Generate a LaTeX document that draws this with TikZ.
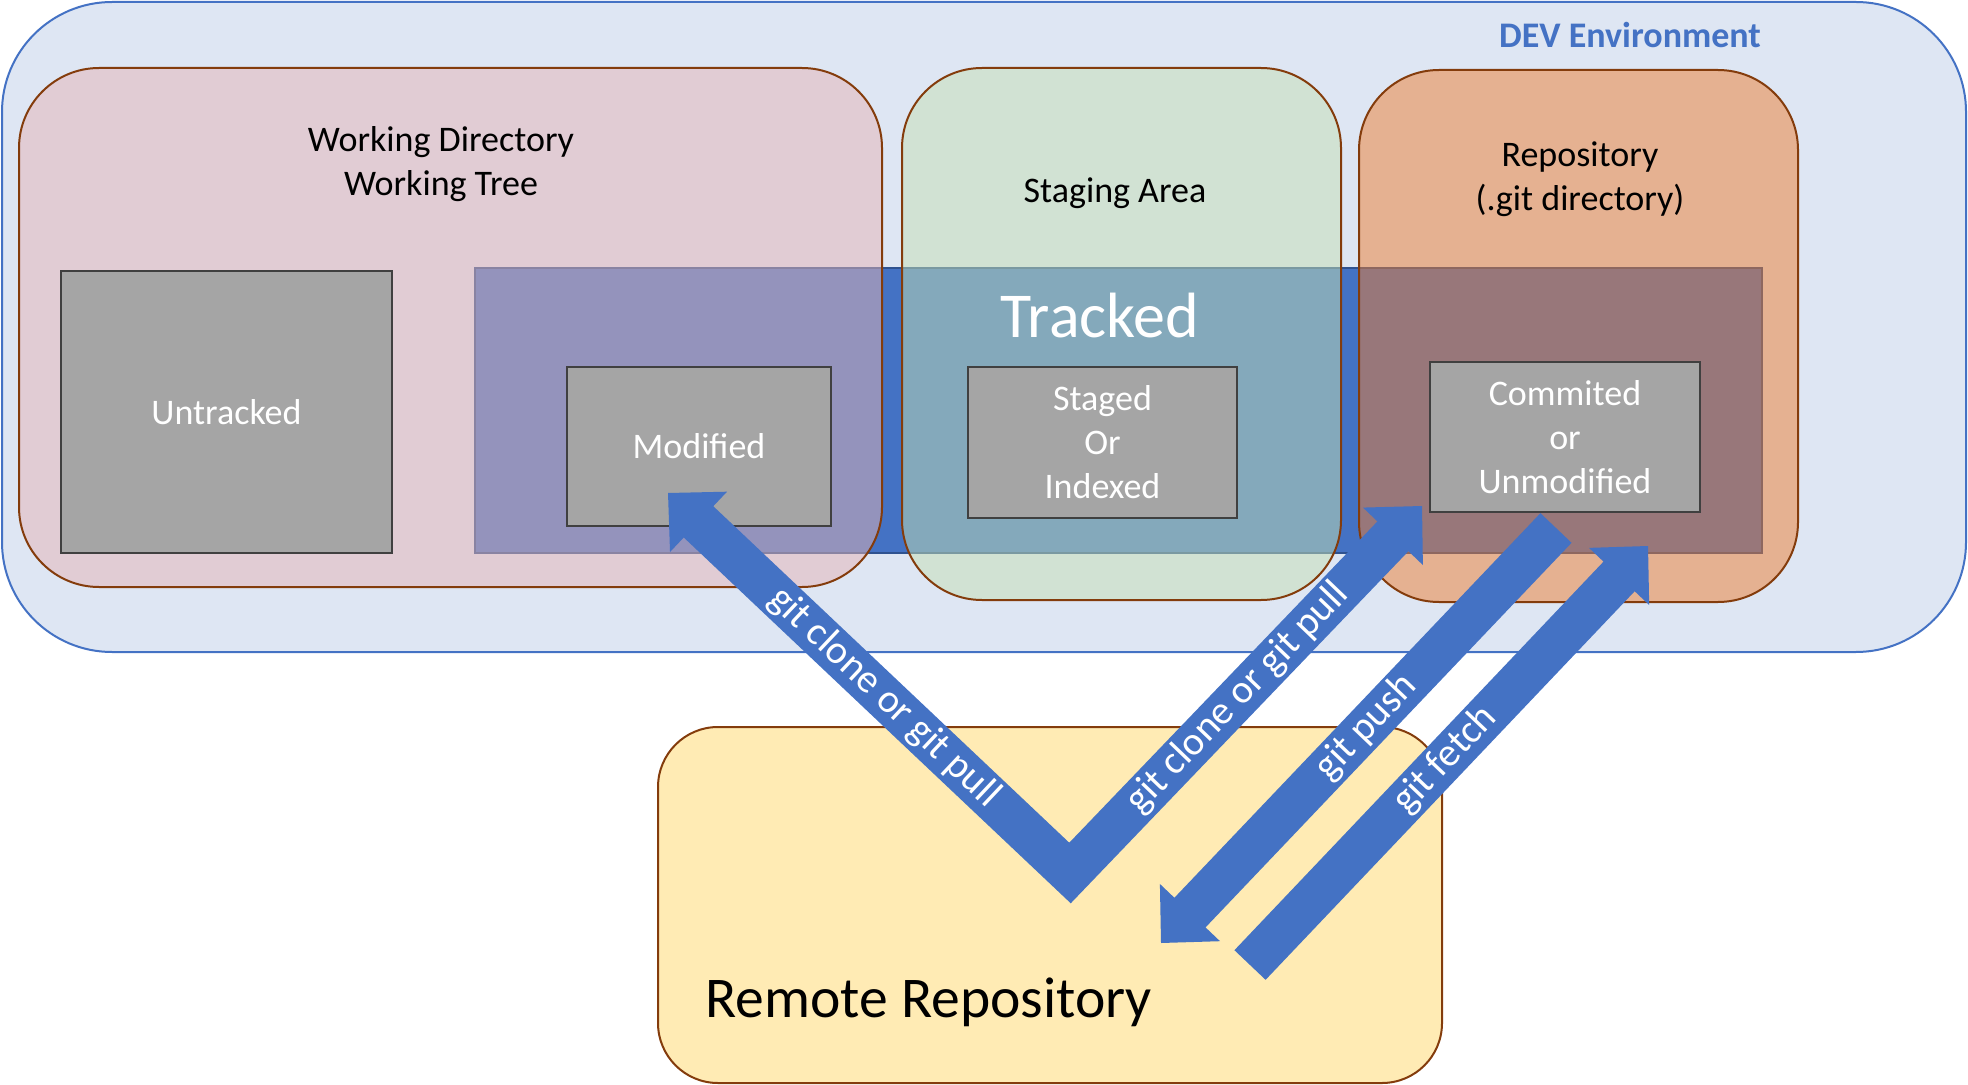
\documentclass[tikz,border=0pt]{standalone}
\usepackage{fontspec}
\setmainfont{Carlito}
\usetikzlibrary{calc}
\definecolor{devbg}{RGB}{222,230,243}
\definecolor{accblue}{RGB}{68,114,196}
\definecolor{darkblue}{RGB}{47,82,143}
\definecolor{brownline}{RGB}{132,60,12}
\definecolor{pinkfill}{RGB}{228,180,182}
\definecolor{greenfill}{RGB}{197,224,180}
\definecolor{orangefill}{RGB}{237,125,49}
\definecolor{grayfill}{RGB}{165,165,165}
\definecolor{grayline}{RGB}{64,64,64}
\definecolor{yellowfill}{RGB}{255,235,180}
\begin{document}
\begin{tikzpicture}[x=0.5pt,y=-0.5pt,
  area/.style={draw=brownline, line width=1pt, rounded corners=40pt, fill opacity=0.5},
  state/.style={draw=grayline, fill=grayfill, line width=1.2pt, text=white, align=center,
    font=\fontsize{18}{22}\selectfont},
  lbl/.style={font=\fontsize{18}{22}\selectfont, align=center, inner sep=0pt},
  arrlbl/.style={font=\fontsize{20}{24}\selectfont, text=white, inner sep=0pt, sloped},
  blockarrow/.style={fill=accblue, draw=none}
]
\useasboundingbox (0,0) rectangle (1968,1085);
% DEV environment
\draw[fill=devbg, draw=accblue, line width=1pt, rounded corners=55pt] (2,2) rectangle (1966,652);
% tracked region
\draw[draw=darkblue, fill=accblue, line width=1pt] (475,268) rectangle (1762,553);
% areas
\draw[area, fill=pinkfill] (19,68) rectangle (882,587);
\draw[area, fill=greenfill] (902,68) rectangle (1341,600);
\draw[area, fill=orangefill] (1359,70) rectangle (1798,602);
% state boxes
\node[state, minimum width=165.5pt, minimum height=141pt] (untracked) at (226.5,412) {Untracked};
\node[state, minimum width=132pt, minimum height=79.5pt] (modified) at (699,446.5) {Modified};
\node[state, minimum width=134.5pt, minimum height=75.5pt] (staged) at (1102.5,442.5) {Staged\\Or\\Indexed};
\node[state, minimum width=135pt, minimum height=75pt] (committed) at (1565,437) {Commited\\or\\Unmodified};
% labels
\node[lbl] (wd) at (441,164) {Working Directory\\Working Tree};
\node[lbl] (sa) at (1115,193) {Staging Area};
\node[lbl] (repo) at (1580,179) {Repository\\(.git directory)};
\node[lbl, font=\bfseries\fontsize{18}{22}\selectfont, text=accblue] (dev) at (1630,35) {DEV Environment};
\node[lbl, font=\fontsize{32}{38}\selectfont, text=white, anchor=base] (tracked) at (1100,337) {Tracked};
% remote
\draw[draw=brownline, fill=yellowfill, line width=1pt, rounded corners=30pt] (658,727) rectangle (1442,1083);
\node[lbl, font=\fontsize{28.8}{34}\selectfont, anchor=base west] (remote) at (705,1017) {Remote Repository};
% V arrows
\coordinate (C) at (1070,873);
\coordinate (P1) at (668,493);
\coordinate (P2) at (1422,506);
\coordinate (B1) at ($(P1)!21pt!(C)$);
\coordinate (B2) at ($(P2)!21pt!(C)$);
\coordinate (E1) at ($(P1)!19pt!(C)$);
\coordinate (E2) at ($(P2)!19pt!(C)$);
\draw[accblue, line width=21.5pt, line join=miter] (E1) -- (C) -- (E2);
\fill[blockarrow] (P1) -- ($(B1)!20.75pt!90:(P1)$) -- ($(B1)!20.75pt!-90:(P1)$) -- cycle;
\fill[blockarrow] (P2) -- ($(B2)!20.75pt!90:(P2)$) -- ($(B2)!20.75pt!-90:(P2)$) -- cycle;
\path (B1) -- (C) node[arrlbl, pos=0.5] {git clone or git pull};
\path (C) -- (B2) node[arrlbl, pos=0.52] {git clone or git pull};
% push arrow
\coordinate (T3) at (1556,528);
\coordinate (P3) at (1161,943);
\coordinate (B3) at ($(P3)!21pt!(T3)$);
\fill[blockarrow] ($(T3)!10.75pt!90:(P3)$) -- ($(B3)!10.75pt!90:(P3)$) -- ($(B3)!20.75pt!90:(P3)$) -- (P3) -- ($(B3)!20.75pt!-90:(P3)$) -- ($(B3)!10.75pt!-90:(P3)$) -- ($(T3)!10.75pt!-90:(P3)$) -- cycle;
\path (P3) -- (T3) node[arrlbl, pos=0.52] {git push};
% fetch arrow
\coordinate (T4) at (1250,965);
\coordinate (P4) at (1648,546);
\coordinate (B4) at ($(P4)!21pt!(T4)$);
\fill[blockarrow] ($(T4)!10.75pt!90:(P4)$) -- ($(B4)!10.75pt!90:(P4)$) -- ($(B4)!20.75pt!90:(P4)$) -- (P4) -- ($(B4)!20.75pt!-90:(P4)$) -- ($(B4)!10.75pt!-90:(P4)$) -- ($(T4)!10.75pt!-90:(P4)$) -- cycle;
\path (T4) -- (P4) node[arrlbl, pos=0.49] {git fetch};
\end{tikzpicture}
\end{document}
